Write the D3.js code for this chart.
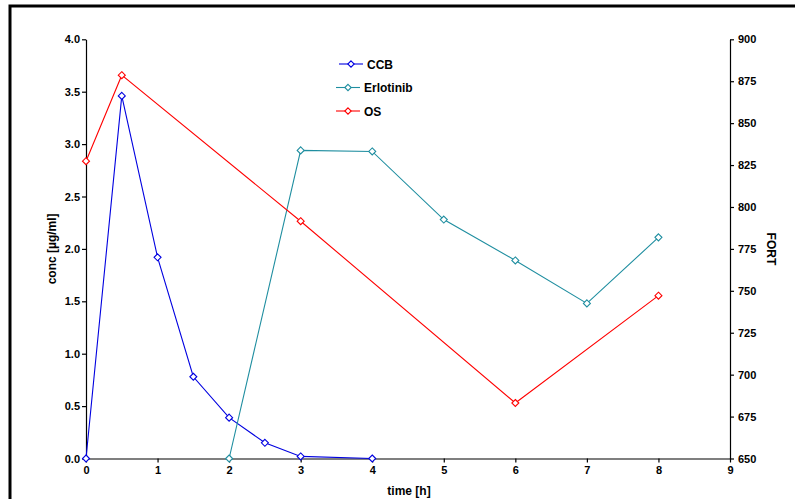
<!DOCTYPE html>
<html><head><meta charset="utf-8">
<script src="https://cdn.jsdelivr.net/npm/d3@7"></script>
<style>
html,body{margin:0;padding:0;background:#fff;overflow:hidden}
text{font-family:"Liberation Sans",Arial,sans-serif;font-weight:bold;fill:#000}
</style></head>
<body><svg id="c" width="795" height="499"></svg>
<script>
const ccbTime = [0, 0.5, 1, 1.5, 2, 2.5, 3, 4];
const ccbConc = [0, 3.46, 1.92, 0.78, 0.39, 0.15, 0.02, 0.0];
const erlTime = [2, 3, 4, 5, 6, 7, 8];
const erlConc = [0, 2.94, 2.93, 2.28, 1.89, 1.48, 2.11];
const osTime = [0, 0.5, 3, 6, 8];
const osFort = [827.3, 878.6, 791.5, 683.1, 747.1];
const xTicks = [0,1,2,3,4,5,6,7,8,9];
const yLeftTicks = [0,0.5,1,1.5,2,2.5,3,3.5,4];
const yRightTicks = [650,675,700,725,750,775,800,825,850,875,900];
const seriesNames = ["CCB","Erlotinib","OS"];
const seriesColors = ["#0000e0","#1f8ea0","#ff0000"];

const svg = d3.select("#c");
const L = 86, R = 730, T = 39.3, B = 458.5;
const x = d3.scaleLinear().domain([0,9]).range([L,R]);
const yL = d3.scaleLinear().domain([0,4]).range([B,T]);
const yR = d3.scaleLinear().domain([650,900]).range([B,T]);

// frame
svg.append("rect").attr("x",10).attr("y",6).attr("width",800).attr("height",510)
  .attr("fill","none").attr("stroke","#000").attr("stroke-width",3);

const fmt1 = d3.format(".1f");
const gx = svg.append("g").attr("transform",`translate(0,${B})`)
  .call(d3.axisBottom(x).tickValues(xTicks).tickSize(4).tickSizeOuter(0).tickFormat(d3.format("d")));
const gl = svg.append("g").attr("transform",`translate(${L},0)`)
  .call(d3.axisLeft(yL).tickValues(yLeftTicks).tickSize(4).tickSizeOuter(0).tickFormat(fmt1));
const gr = svg.append("g").attr("transform",`translate(${R},0)`)
  .call(d3.axisRight(yR).tickValues(yRightTicks).tickSize(4).tickSizeOuter(0).tickFormat(d3.format("d")));
[gx,gl,gr].forEach(g=>{
  g.selectAll("path,line").attr("stroke","#000").attr("stroke-width",1.2);
  g.selectAll("text").style("font-size","11px").style("font-weight","bold")
   .style("font-family","'Liberation Sans',Arial,sans-serif").attr("fill","#000");
});
gx.selectAll("text").attr("dy","0.71em").attr("y",8);
gl.selectAll("text").attr("x",-6);
gr.selectAll("text").attr("x",8);

// axis titles
svg.append("text").attr("transform",`translate(56,${(T+B)/2}) rotate(-90)`)
  .attr("text-anchor","middle").style("font-size","12px").text("conc [µg/ml]");
svg.append("text").attr("x",409).attr("y",495)
  .attr("text-anchor","middle").style("font-size","12px").text("time [h]");
svg.append("text").attr("transform",`translate(767,${(T+B)/2}) rotate(90)`)
  .attr("text-anchor","middle").style("font-size","12px").text("FORT");

const sets = [
  {xs: ccbTime, ys: ccbConc, sc: yL},
  {xs: erlTime, ys: erlConc, sc: yL},
  {xs: osTime, ys: osFort, sc: yR}
];
const diamond = (cx,cy,r)=>`M${cx},${cy-r}L${cx+r},${cy}L${cx},${cy+r}L${cx-r},${cy}Z`;
sets.forEach((s,i)=>{
  const pts = s.xs.map((t,j)=>[x(t), s.sc(s.ys[j])]);
  svg.append("path").attr("d",d3.line()(pts)).attr("fill","none")
    .attr("stroke",seriesColors[i]).attr("stroke-width",1.1);
  svg.selectAll(null).data(pts).enter().append("path")
    .attr("d",p=>diamond(p[0],p[1],3.5)).attr("fill","#fff")
    .attr("stroke",seriesColors[i]).attr("stroke-width",1.1);
});

// legend
const legY = [64, 87.5, 111];
const legX0 = [339, 336, 336];
seriesNames.forEach((n,i)=>{
  const g = svg.append("g");
  g.append("line").attr("x1",legX0[i]).attr("x2",legX0[i]+24).attr("y1",legY[i]).attr("y2",legY[i])
    .attr("stroke",seriesColors[i]).attr("stroke-width",1.1);
  g.append("path").attr("d",diamond(legX0[i]+12,legY[i],3.2)).attr("fill","#fff")
    .attr("stroke",seriesColors[i]).attr("stroke-width",1.1);
  g.append("text").attr("x",legX0[i]+28).attr("y",legY[i]+4.5).style("font-size","12px").text(n);
});
</script></body></html>
